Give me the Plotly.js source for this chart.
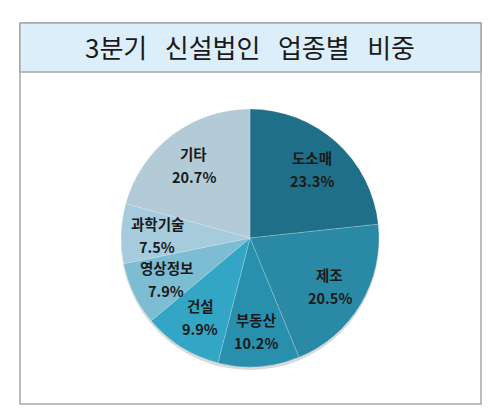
<!DOCTYPE html>
<html>
<head>
<meta charset="utf-8">
<script src="https://cdn.plot.ly/plotly-3.0.1.min.js"></script>
<style>
  body { margin: 0; background: #fff; }
  #chart { width: 500px; height: 415px; }
</style>
</head>
<body>
<div id="chart"></div>
<script>
const CHART_TITLE = '3분기&nbsp;&nbsp;&nbsp;신설법인&nbsp;&nbsp;&nbsp;업종별&nbsp;&nbsp;&nbsp;비중'
const SECTORS = ['도소매', '제조', '부동산', '건설', '영상정보', '과학기술', '기타']
const SHARES = [23.3, 20.5, 10.2, 9.9, 7.9, 7.5, 20.7]
const SLICE_COLORS = ['#1f6f88', '#2a8aa6', '#2890ad', '#33a6c6', '#7dbdd4', '#a6cbdc', '#b2cbd7']

const W = 500, H = 415
// pie placement in pixels
const CX = 250, CY = 238, R = 129
const LABEL_R = 0.72   // labels sit at this fraction of the radius
const px = (x) => x / W
const py = (y) => 1 - y / H

const LABEL_FONT = { family: '"Noto Sans CJK KR", sans-serif', size: 14.5, color: '#1a1a1a', weight: 'bold' }

let data = [
  {
    type: 'pie',
    labels: SECTORS,
    values: SHARES,
    sort: false,
    direction: 'clockwise',
    rotation: 0,
    textinfo: 'none',
    marker: {
      colors: SLICE_COLORS,
      line: { color: 'rgba(255,255,255,0.35)', width: 0.6 }
    },
    hoverinfo: 'none',
    showlegend: false,
    domain: {
      x: [px(CX - R), px(CX + R)],
      y: [py(CY + R), py(CY - R)]
    }
  }
]

// slice labels: placed at each slice's mid angle (clockwise from 12 o'clock)
let total = SHARES.reduce((a, b) => a + b, 0)
let annotations = []
let acc = 0
SHARES.forEach(function (v, i) {
  let mid = (acc + v / 2) / total * 2 * Math.PI
  acc += v
  let x = CX + LABEL_R * R * Math.sin(mid)
  let y = CY - LABEL_R * R * Math.cos(mid)
  annotations.push({
    text: SECTORS[i], xref: 'paper', yref: 'paper',
    x: px(x), y: py(y - 11), xanchor: 'center', yanchor: 'middle',
    showarrow: false, font: LABEL_FONT
  })
  annotations.push({
    text: v.toFixed(1) + '%', xref: 'paper', yref: 'paper',
    x: px(x), y: py(y + 12), xanchor: 'center', yanchor: 'middle',
    showarrow: false, font: LABEL_FONT
  })
})

annotations.push({
  text: CHART_TITLE,
  xref: 'paper', yref: 'paper',
  x: px(250), y: py(47),
  xanchor: 'center', yanchor: 'middle',
  showarrow: false,
  font: { family: '"Noto Sans CJK KR", sans-serif', size: 26, color: '#1a1a1a' }
})

let layout = {
  width: W,
  height: H,
  margin: { l: 0, r: 0, t: 0, b: 0 },
  paper_bgcolor: '#ffffff',
  showlegend: false,
  shapes: [
    // outer frame
    {
      type: 'rect', xref: 'paper', yref: 'paper', layer: 'below',
      x0: px(20), x1: px(481), y0: py(404), y1: py(23),
      line: { color: '#a8a8a8', width: 1.5 },
      fillcolor: '#ffffff'
    },
    // title band
    {
      type: 'rect', xref: 'paper', yref: 'paper', layer: 'below',
      x0: px(20), x1: px(481), y0: py(72), y1: py(23),
      line: { color: '#a8a8a8', width: 1.5 },
      fillcolor: '#ddeefb'
    },
    // soft shadow under the pie
    {
      type: 'circle', xref: 'paper', yref: 'paper', layer: 'below',
      x0: px(CX - R), x1: px(CX + R), y0: py(CY + R + 3), y1: py(CY - R + 3),
      line: { width: 0 },
      fillcolor: 'rgba(0,0,0,0.15)'
    }
  ],
  annotations: annotations
}

let config = { displayModeBar: false, staticPlot: true }

Plotly.newPlot('chart', data, layout, config)
</script>
</body>
</html>
